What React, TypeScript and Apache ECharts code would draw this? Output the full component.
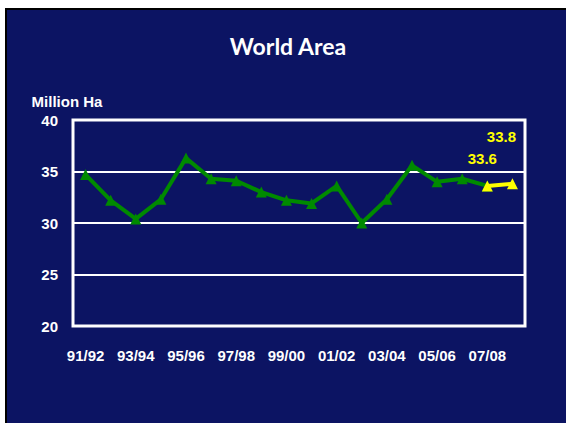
import React, { useEffect, useRef } from "react";
import * as echarts from "echarts";

const categories = [
  "91/92", "92/93", "93/94", "94/95", "95/96", "96/97", "97/98", "98/99", "99/00",
  "00/01", "01/02", "02/03", "03/04", "04/05", "05/06", "06/07", "07/08", "08/09",
];
const historical = [
  34.7, 32.2, 30.4, 32.3, 36.3, 34.3, 34.1, 33.0, 32.2,
  31.9, 33.6, 30.0, 32.3, 35.6, 34.0, 34.3, 33.6,
];
const projectionValues = [33.6, 33.8];
const yTicks = { min: 20, max: 40, interval: 5 };

const NAVY = "#0c1463";
const GREEN = "#008a00";
const YELLOW = "#ffff00";

export default function App() {
  const ref = useRef<HTMLDivElement>(null);
  useEffect(() => {
    document.body.style.margin = "0";
    const chart = echarts.init(ref.current!, undefined, { renderer: "svg" });
    const greenData = categories.map((_, i) => (i < historical.length ? historical[i] : "-"));
    const startIdx = categories.length - projectionValues.length;
    const labelOffsets = [
      [-5, -9],
      [-11, -29],
    ];
    const yellowData = categories.map((_, i) =>
      i >= startIdx
        ? {
            value: projectionValues[i - startIdx],
            label: {
              show: true,
              position: "top",
              offset: labelOffsets[i - startIdx],
              color: YELLOW,
              fontFamily: "Liberation Sans",
              fontWeight: "bold",
              fontSize: 15,
              formatter: (p: any) => p.value.toFixed(1),
            },
          }
        : "-"
    );
    chart.setOption({
      animation: false,
      backgroundColor: "#ffffff",
      graphic: [
        { type: "rect", z: -10, shape: { x: 5, y: 8, width: 561, height: 415 }, style: { fill: "#000000" } },
        { type: "rect", z: -9, shape: { x: 7, y: 10, width: 559, height: 413 }, style: { fill: NAVY } },
        {
          type: "text",
          x: 288,
          y: 46,
          style: {
            text: "World Area",
            fill: "#ffffff",
            font: "bold 23px Lato",
            align: "center",
            verticalAlign: "middle",
          },
        },
        {
          type: "text",
          x: 67,
          y: 101,
          style: {
            text: "Million Ha",
            fill: "#ffffff",
            font: "bold 15px 'Liberation Sans'",
            align: "center",
            verticalAlign: "middle",
          },
        },
      ],
      grid: {
        left: 73,
        right: 41,
        top: 120,
        bottom: 97,
        show: true,
        borderColor: "#ffffff",
        borderWidth: 3,
        backgroundColor: "transparent",
      },
      xAxis: {
        type: "category",
        data: categories,
        boundaryGap: true,
        axisLine: { show: false },
        axisTick: { show: false },
        axisLabel: {
          interval: 1,
          color: "#ffffff",
          fontFamily: "Liberation Sans",
          fontWeight: "bold",
          fontSize: 15,
          margin: 22,
        },
      },
      yAxis: {
        type: "value",
        min: yTicks.min,
        max: yTicks.max,
        interval: yTicks.interval,
        axisLine: { show: false },
        axisTick: { show: false },
        splitLine: { lineStyle: { color: "#ffffff", width: 2 } },
        axisLabel: {
          color: "#ffffff",
          fontFamily: "Liberation Sans",
          fontWeight: "bold",
          fontSize: 15,
          margin: 15,
          padding: [4, 0, 0, 0],
        },
      },
      series: [
        {
          type: "line",
          data: greenData,
          symbol: "triangle",
          symbolSize: 11,
          showAllSymbol: true,
          lineStyle: { color: GREEN, width: 4 },
          itemStyle: { color: GREEN },
          z: 2,
        },
        {
          type: "line",
          data: yellowData,
          symbol: "triangle",
          symbolSize: 11,
          lineStyle: { color: YELLOW, width: 4 },
          itemStyle: { color: YELLOW },
          z: 3,
        },
      ],
    });
    return () => chart.dispose();
  }, []);
  return <div ref={ref} style={{ position: "fixed", left: 0, top: 0, width: 566, height: 423 }} />;
}
